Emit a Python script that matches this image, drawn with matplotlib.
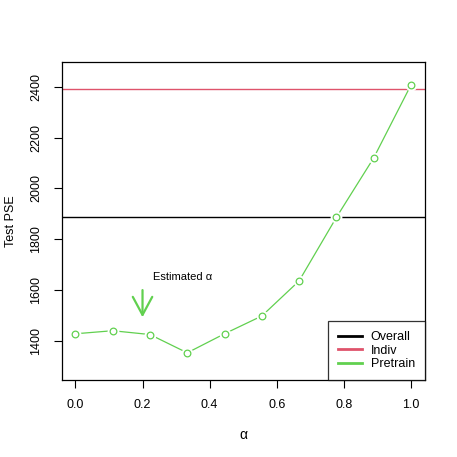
import matplotlib
matplotlib.use("Agg")
import matplotlib.pyplot as plt
from matplotlib.lines import Line2D

# alpha grid and test PSE for the pretrained lasso
alpha = [0.0, 1/9, 2/9, 3/9, 4/9, 5/9, 6/9, 7/9, 8/9, 1.0]
pse_pretrain = [1428, 1440, 1425, 1353, 1428, 1498, 1636, 1886, 2120, 2407]
pse_overall = 1888
pse_indiv = 2392
alpha_hat = 0.2

green = "#61D04F"
red = "#DF536B"

plt.rcParams["font.family"] = ["Liberation Sans", "DejaVu Sans"]

fig = plt.figure(figsize=(4.57, 4.57), dpi=100)
ax = fig.add_axes([62/457, 77/457, 363/457, 318/457])

ax.axhline(pse_overall, color="black", lw=1.0)
ax.axhline(pse_indiv, color=red, lw=1.0)

# R type="b": gaps between the segments and the circles
ax.plot(alpha, pse_pretrain, color=green, lw=0.9, zorder=3)
ax.plot(alpha, pse_pretrain, ls="none", marker="o", ms=7.5, mfc="white",
        mec="white", zorder=4)
ax.plot(alpha, pse_pretrain, ls="none", marker="o", ms=4.8, mfc="none",
        mec=green, mew=0.9, zorder=5)

ax.annotate("", xy=(alpha_hat, 1493), xytext=(alpha_hat, 1600),
            arrowprops=dict(arrowstyle="->,head_length=1.3,head_width=0.7",
                            color=green, lw=1.6, shrinkA=0, shrinkB=0,
                            mutation_scale=10))
ax.text(alpha_hat + 0.03, 1650, "Estimated \u03b1", fontsize=8,
        ha="left", va="center")

ax.set_xlim(-0.04, 1.042)
ax.set_ylim(1246, 2498)
ax.set_xticks([0.0, 0.2, 0.4, 0.6, 0.8, 1.0])
ax.set_xticklabels(["0.0", "0.2", "0.4", "0.6", "0.8", "1.0"])
ax.set_yticks([1400, 1600, 1800, 2000, 2200, 2400])
ax.set_yticklabels(["1400", "1600", "1800", "2000", "2200", "2400"],
                   rotation=90, va="center")
ax.tick_params(direction="out", length=6, width=0.8, labelsize=9, pad=8)
for s in ax.spines.values():
    s.set_linewidth(0.9)

ax.set_xlabel("\u03b1", fontsize=10, labelpad=12)
ax.set_ylabel("Test PSE", fontsize=9, labelpad=10)

handles = [Line2D([], [], color="black", lw=2),
           Line2D([], [], color=red, lw=2),
           Line2D([], [], color=green, lw=2)]
leg = ax.legend(handles, ["Overall", "Indiv", "Pretrain"], loc="lower right",
                fontsize=9, frameon=True, fancybox=False, borderaxespad=0,
                handlelength=1.9, labelspacing=0.12, borderpad=0.8,
                handletextpad=0.7)
leg.get_frame().set_edgecolor("black")
leg.get_frame().set_linewidth(0.9)

fig.savefig("out.png", dpi=100)
